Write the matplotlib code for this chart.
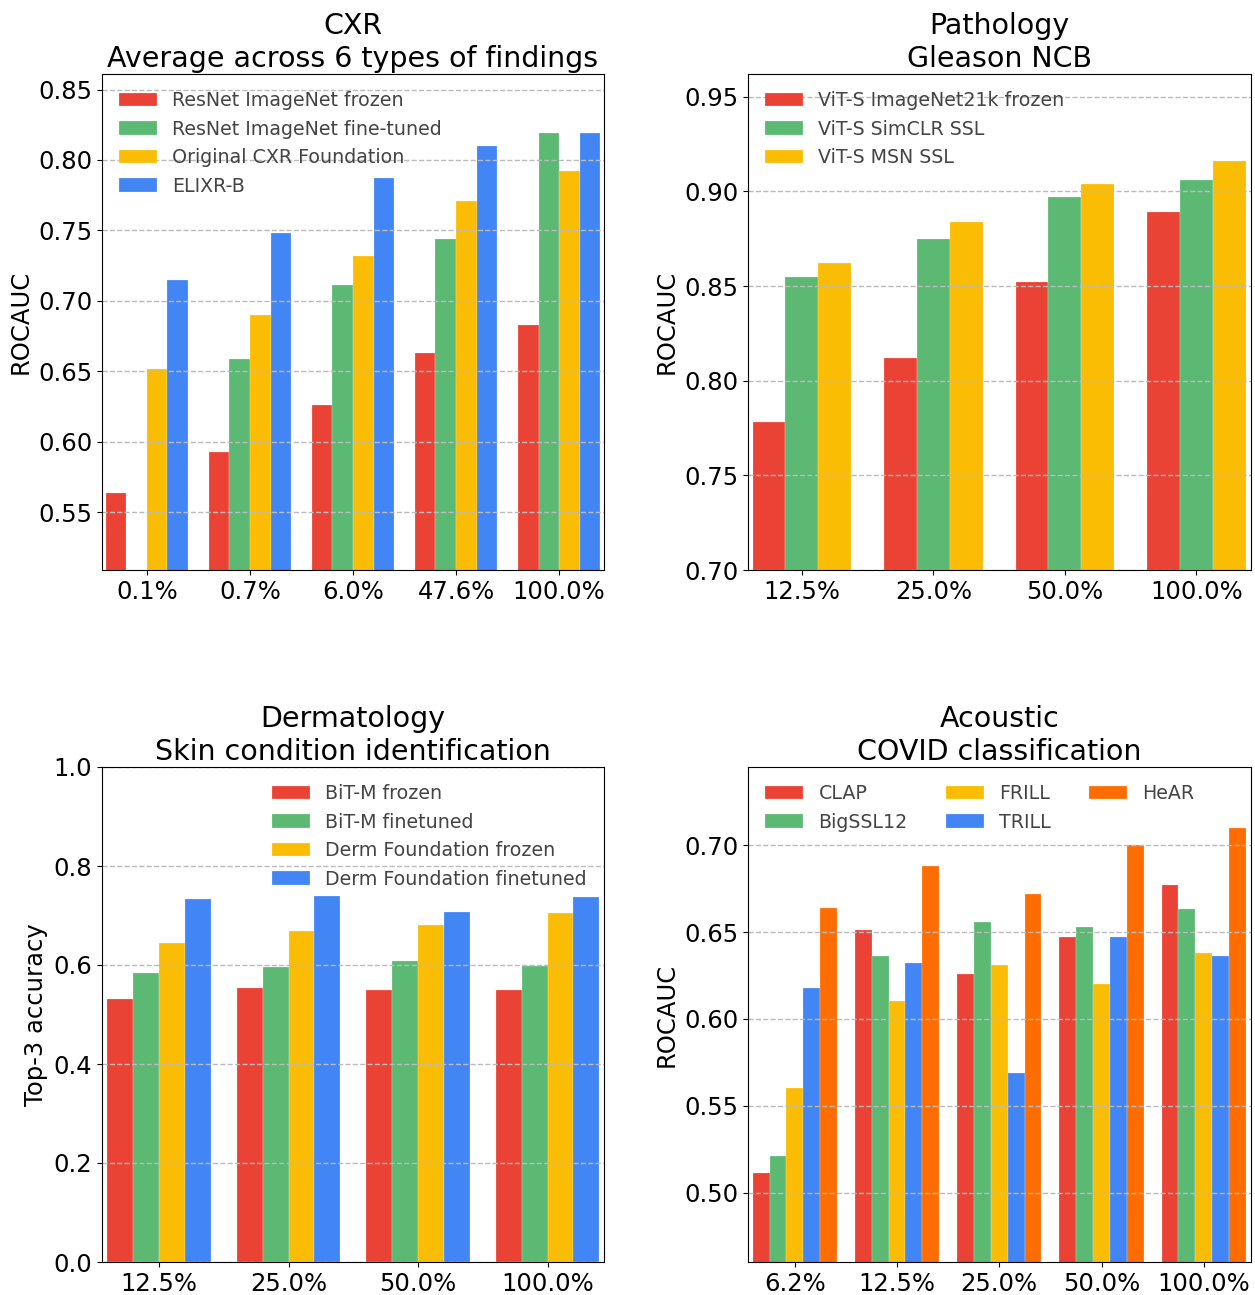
import matplotlib
matplotlib.use('Agg')
import matplotlib.pyplot as plt
import numpy as np

RED = '#EA4335'
GREEN = '#5BB974'
YELLOW = '#FBBC04'
BLUE = '#4285F4'
ORANGE = '#FF6D01'

# CXR
cxr_labels = ['0.1%', '0.7%', '6.0%', '47.6%', '100.0%']
cxr_series = ['ResNet ImageNet frozen', 'ResNet ImageNet fine-tuned',
              'Original CXR Foundation', 'ELIXR-B']
cxr_frozen = [0.564, 0.593, 0.626, 0.663, 0.683]
cxr_finetuned = [np.nan, 0.659, 0.711, 0.744, 0.819]
cxr_original = [0.652, 0.690, 0.732, 0.771, 0.792]
cxr_elixr = [0.715, 0.748, 0.787, 0.810, 0.819]

# Pathology
path_labels = ['12.5%', '25.0%', '50.0%', '100.0%']
path_series = ['ViT-S ImageNet21k frozen', 'ViT-S SimCLR SSL', 'ViT-S MSN SSL']
path_imagenet = [0.778, 0.812, 0.852, 0.889]
path_simclr = [0.855, 0.875, 0.897, 0.906]
path_msn = [0.862, 0.884, 0.904, 0.916]

# Dermatology
derm_labels = ['12.5%', '25.0%', '50.0%', '100.0%']
derm_series = ['BiT-M frozen', 'BiT-M finetuned',
               'Derm Foundation frozen', 'Derm Foundation finetuned']
derm_bit_frozen = [0.531, 0.553, 0.550, 0.550]
derm_bit_ft = [0.584, 0.595, 0.609, 0.597]
derm_df_frozen = [0.645, 0.669, 0.680, 0.705]
derm_df_ft = [0.734, 0.740, 0.708, 0.738]

# Acoustic
ac_labels = ['6.2%', '12.5%', '25.0%', '50.0%', '100.0%']
ac_series = ['CLAP', 'BigSSL12', 'FRILL', 'TRILL', 'HeAR']
ac_clap = [0.511, 0.651, 0.626, 0.647, 0.677]
ac_bigssl = [0.521, 0.636, 0.656, 0.653, 0.663]
ac_frill = [0.560, 0.610, 0.631, 0.620, 0.638]
ac_trill = [0.618, 0.632, 0.569, 0.647, 0.636]
ac_hear = [0.664, 0.688, 0.672, 0.700, 0.710]

FS = 17.5

fig = plt.figure(figsize=(12.55, 12.95), dpi=100)
W, H = 1255, 1295


def make_ax(l, t, r, b):
    return fig.add_axes([l / W, 1 - b / H, (r - l) / W, (b - t) / H])


def grouped(ax, labels, series, names, colors, width, xlim, ylim, ylabel,
            title, legend_kw):
    x = np.arange(len(labels))
    n = len(series)
    for i, (vals, name, c) in enumerate(zip(series, names, colors)):
        off = (i - (n - 1) / 2) * width
        ax.bar(x + off, vals, width, color=c, label=name,
               edgecolor='white', linewidth=0.15)
    ax.set_xticks(x)
    ax.set_xticklabels(labels, fontsize=FS)
    ax.tick_params(axis='y', labelsize=FS)
    ax.set_xlim(*xlim)
    ax.set_ylim(*ylim)
    ax.set_axisbelow(False)
    ax.yaxis.grid(True, linestyle='--', color='#bbbbbb', linewidth=1.0)
    for s in ax.spines.values():
        s.set_zorder(4)
    ax.set_ylabel(ylabel, fontsize=17.5)
    ax.set_title(title, fontsize=20.5, linespacing=1.25, pad=5)
    leg = ax.legend(frameon=False, fontsize=13.7, labelspacing=0.5,
                    **legend_kw)
    for t in leg.get_texts():
        t.set_color('#444444')


ax1 = make_ax(102, 74, 604, 570)
grouped(ax1, cxr_labels, [cxr_frozen, cxr_finetuned, cxr_original, cxr_elixr],
        cxr_series, [RED, GREEN, YELLOW, BLUE], 0.2, (-0.435, 4.435),
        (0.509, 0.861), 'ROCAUC', 'CXR\nAverage across 6 types of findings',
        dict(loc='upper left'))
ax1.set_yticks([0.55, 0.60, 0.65, 0.70, 0.75, 0.80, 0.85])
ax1.set_yticklabels(['0.55', '0.60', '0.65', '0.70', '0.75', '0.80', '0.85'])

ax2 = make_ax(748, 74, 1251, 570)
grouped(ax2, path_labels, [path_imagenet, path_simclr, path_msn],
        path_series, [RED, GREEN, YELLOW], 0.25, (-0.41, 3.415),
        (0.70, 0.962), 'ROCAUC', 'Pathology\nGleason NCB',
        dict(loc='upper left'))
ax2.set_yticks([0.70, 0.75, 0.80, 0.85, 0.90, 0.95])
ax2.set_yticklabels(['0.70', '0.75', '0.80', '0.85', '0.90', '0.95'])

ax3 = make_ax(102, 767, 604, 1262)
grouped(ax3, derm_labels, [derm_bit_frozen, derm_bit_ft, derm_df_frozen, derm_df_ft],
        derm_series, [RED, GREEN, YELLOW, BLUE], 0.2, (-0.44, 3.436),
        (0.0, 1.0), 'Top-3 accuracy',
        'Dermatology\nSkin condition identification',
        dict(loc='upper right'))
ax3.set_yticks([0.0, 0.2, 0.4, 0.6, 0.8, 1.0])
ax3.set_yticklabels(['0.0', '0.2', '0.4', '0.6', '0.8', '1.0'])

ax4 = make_ax(748, 767, 1251, 1262)
grouped(ax4, ac_labels, [ac_clap, ac_bigssl, ac_frill, ac_trill, ac_hear],
        ac_series, [RED, GREEN, YELLOW, BLUE, ORANGE], 0.165, (-0.458, 4.462),
        (0.460, 0.745), 'ROCAUC', 'Acoustic\nCOVID classification',
        dict(loc='upper left', ncol=3))
ax4.set_yticks([0.50, 0.55, 0.60, 0.65, 0.70])
ax4.set_yticklabels(['0.50', '0.55', '0.60', '0.65', '0.70'])

fig.savefig('out.png', dpi=100)
